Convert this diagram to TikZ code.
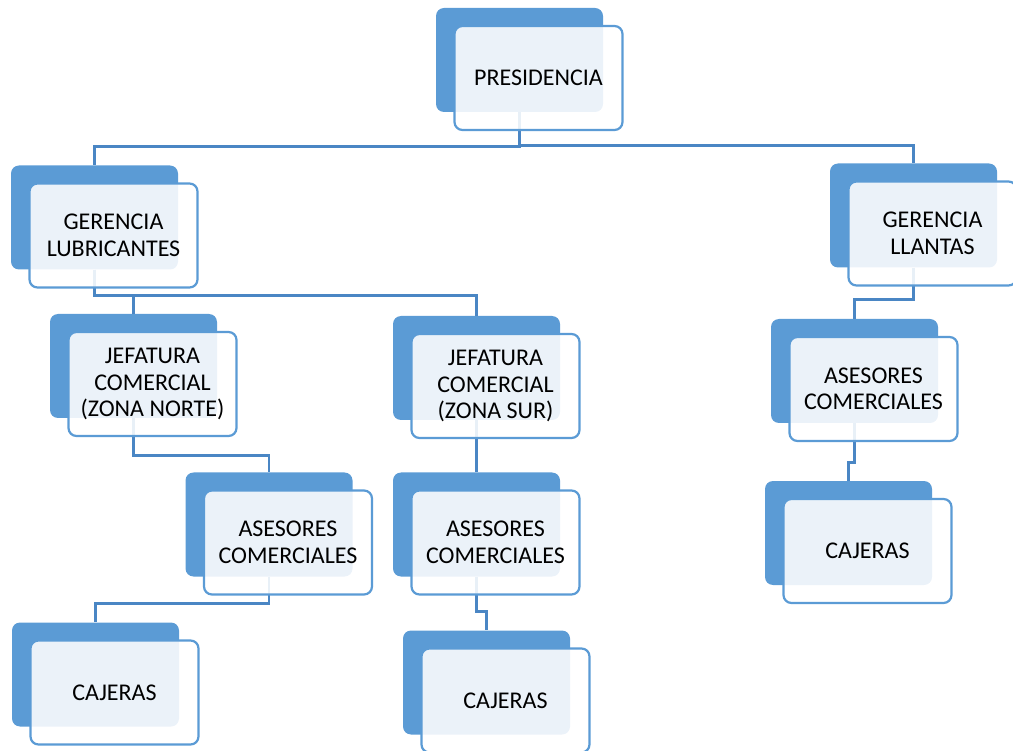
\documentclass[tikz,border=0pt]{standalone}
\usepackage{fontspec}
\setmainfont{Carlito}
\definecolor{boxblue}{RGB}{91,155,213}
\definecolor{lineblue}{RGB}{74,134,196}
\begin{document}
\begin{tikzpicture}[x=1pt,y=-1pt,
  backbox/.style={fill=boxblue, draw=none, rounded corners=8pt, minimum width=167pt, minimum height=104pt, inner sep=0pt},
  frontbox/.style={fill=white, fill opacity=0.88, text opacity=1, draw=boxblue, line width=2.2pt, rounded corners=8pt, minimum width=168pt, minimum height=104pt, inner sep=0pt, align=center, font=\fontsize{24}{26.5}\selectfont},
  conn/.style={draw=lineblue, line width=2.8pt}]
\useasboundingbox (0,0) rectangle (1013,751);
\clip (0,0) rectangle (1013,751);
% back boxes
\node[backbox] (presB) at (519.5,60) {};
\node[backbox] (glB) at (94.5,217.5) {};
\node[backbox] (gllB) at (913.5,215.5) {};
\node[backbox] (jnB) at (133.5,366) {};
\node[backbox] (jsB) at (476.5,368) {};
\node[backbox] (arB) at (854.5,371) {};
\node[backbox] (alB) at (269,524.5) {};
\node[backbox] (asB) at (476.5,524.5) {};
\node[backbox] (crB) at (848.5,533) {};
\node[backbox] (clB) at (95.5,674.5) {};
\node[backbox] (csB) at (486.5,682.5) {};
% connectors
\draw[conn] (presB.south) -- ++(0,34) -| (glB.north);
\draw[conn] (presB.south) -- ++(0,33) -| (gllB.north);
\draw[conn] (glB.south) -- ++(0,26) -| (jnB.north);
\draw[conn] (glB.south) -- ++(0,26) -| (jsB.north);
\draw[conn] (gllB.south) -- ++(0,32) -| (arB.north);
\draw[conn] (jnB.south) -- ++(0,37) -| (alB.north);
\draw[conn] (jsB.south) -- (asB.north);
\draw[conn] (alB.south) -- ++(0,27) -| (clB.north);
\draw[conn] (asB.south) -- ++(0,35) -| (csB.north);
\draw[conn] (arB.south) -- ++(0,39) -| (crB.north);
% front boxes
\node[frontbox] (pres) at (538.5,78) {PRESIDENCIA};
\node[frontbox] (gl) at (113.5,235.5) {GERENCIA\\LUBRICANTES};
\node[frontbox] (gll) at (932.5,233.5) {GERENCIA\\LLANTAS};
\node[frontbox] (jn) at (152.5,384) {JEFATURA\\COMERCIAL\\(ZONA NORTE)};
\node[frontbox] (js) at (495.5,386) {JEFATURA\\COMERCIAL\\(ZONA SUR)};
\node[frontbox] (ar) at (873.5,389) {ASESORES\\COMERCIALES};
\node[frontbox] (al) at (288,542.5) {ASESORES\\COMERCIALES};
\node[frontbox] (as) at (495.5,542.5) {ASESORES\\COMERCIALES};
\node[frontbox] (cr) at (867.5,551) {CAJERAS};
\node[frontbox] (cl) at (114.5,692.5) {CAJERAS};
\node[frontbox] (cs) at (505.5,700.5) {CAJERAS};
\end{tikzpicture}
\end{document}
